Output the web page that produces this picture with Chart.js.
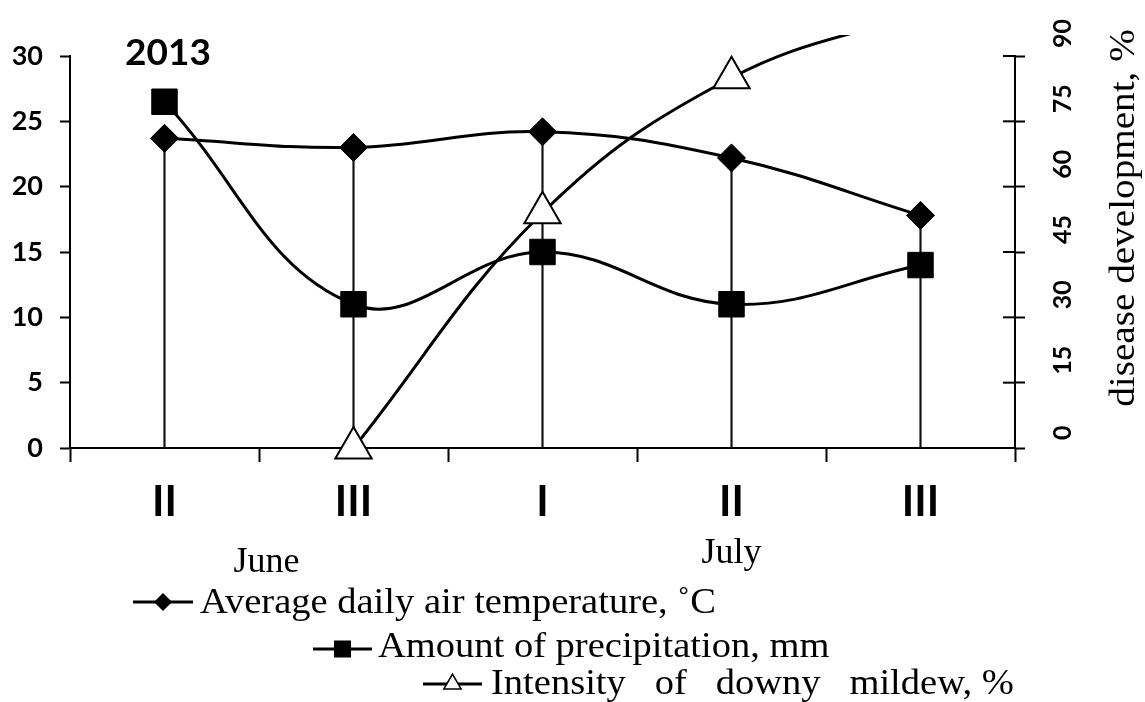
<!DOCTYPE html>
<html>
<head>
<meta charset="utf-8">
<script src="https://cdn.jsdelivr.net/npm/chart.js@4.4.1/dist/chart.umd.min.js"></script>
<style>
  html, body { margin: 0; padding: 0; background: #fff; }
  #wrap { width: 1145px; height: 702px; }
</style>
</head>
<body>
<div id="wrap"><canvas id="chart" width="1145" height="702"></canvas></div>
<script>
// ten-day periods (decades) of June / July 2013
const decades = ['II', 'III', 'I', 'II', 'III'];
const temperature = [23.7, 23.0, 24.2, 22.2, 17.8];   // deg C
const precipitation = [26.5, 11.0, 15.0, 11.0, 14.0]; // mm
const mildew = [null, 0, 54, 85, 100];                // % disease development
const leftTicks = [0, 5, 10, 15, 20, 25, 30];
const rightTicks = [0, 15, 30, 45, 60, 75, 90];
const months = ['June', 'July'];

const serif = '"Liberation Serif", "Times New Roman", serif';
const sans = 'Lato, "Open Sans", sans-serif';

function stretchText(ctx, text, x, y, font, opts) {
  opts = opts || {};
  ctx.save();
  ctx.translate(x, y);
  if (opts.rotate) ctx.rotate(opts.rotate);
  ctx.scale(opts.stretch || 1, 1);
  ctx.font = font;
  ctx.fillStyle = '#000';
  ctx.textAlign = opts.align || 'left';
  ctx.textBaseline = opts.baseline || 'alphabetic';
  ctx.fillText(text, 0, 0);
  ctx.restore();
}

function legendEntry(ctx, ds, x0, x1, y, radius, tx, ty) {
  ctx.save();
  ctx.strokeStyle = '#000';
  ctx.lineWidth = 3;
  ctx.beginPath();
  ctx.moveTo(x0, y);
  ctx.lineTo(x1, y);
  ctx.stroke();
  ctx.fillStyle = ds.pointBackgroundColor;
  ctx.strokeStyle = '#000';
  ctx.lineWidth = 1.5;
  Chart.helpers.drawPoint(ctx, { pointStyle: ds.pointStyle, radius: radius, rotation: 0, borderWidth: 1.5 }, (x0 + x1) / 2, y);
  ctx.restore();
  stretchText(ctx, ds.label, tx, ty, '36px ' + serif, { stretch: 1.07 });
}

const decorations = {
  id: 'decorations',
  afterDraw(chart) {
    const ctx = chart.ctx;
    const area = chart.chartArea;
    const xs = chart.scales.x;
    const y1 = chart.scales.y1;

    // inner half of the right axis ticks
    ctx.save();
    ctx.strokeStyle = '#000';
    ctx.lineWidth = 2;
    y1.ticks.forEach(t => {
      const py = y1.getPixelForValue(t.value);
      ctx.beginPath();
      ctx.moveTo(area.right - 12, py);
      ctx.lineTo(area.right, py);
      ctx.stroke();
    });
    ctx.restore();

    stretchText(ctx, '2013', area.left + 55, area.top + 9, 'bold 37px ' + sans);

    stretchText(ctx, months[0], xs.getPixelForValue(0.54), 572, '36px ' + serif, { align: 'center' });
    stretchText(ctx, months[1], xs.getPixelForValue(3), 563, '36px ' + serif, { align: 'center' });

    stretchText(ctx, 'disease development, %', 1125, 218, '35px ' + serif,
      { rotate: -Math.PI / 2, align: 'center', baseline: 'middle', stretch: 1.12 });

    const ds = chart.data.datasets;
    legendEntry(ctx, ds[1], 133, 193, 602, 8, 200, 613);
    legendEntry(ctx, ds[2], 313, 372, 649, 11, 378, 657);
    legendEntry(ctx, ds[3], 423, 482, 684, 10, 491, 694);
  }
};

const tickFont = { family: sans, weight: 'bold', size: 27 };

new Chart(document.getElementById('chart'), {
  type: 'line',
  data: {
    labels: decades,
    datasets: [
      {
        type: 'bar',
        label: 'drop lines',
        data: temperature,
        backgroundColor: '#111',
        barThickness: 1.5,
        order: 10,
        yAxisID: 'y'
      },
      {
        label: 'Average daily air temperature, \u02DAC',
        data: temperature,
        borderColor: '#000',
        borderWidth: 3,
        tension: 0.4,
        pointStyle: 'rectRot',
        pointRadius: 14,
        pointBackgroundColor: '#000',
        pointBorderColor: '#000',
        pointBorderWidth: 1,
        order: 2,
        yAxisID: 'y'
      },
      {
        label: 'Amount of precipitation, mm',
        data: precipitation,
        borderColor: '#000',
        borderWidth: 3,
        tension: 0.4,
        pointStyle: 'rect',
        pointRadius: 18,
        pointBackgroundColor: '#000',
        pointBorderColor: '#000',
        pointBorderWidth: 1,
        order: 1,
        yAxisID: 'y'
      },
      {
        label: 'Intensity   of   downy   mildew, %',
        data: mildew,
        borderColor: '#000',
        borderWidth: 3,
        tension: 0.4,
        pointStyle: 'triangle',
        pointRadius: 21,
        pointBackgroundColor: '#fff',
        pointBorderColor: '#000',
        pointBorderWidth: 2,
        clip: { left: 30, top: 21, right: 30, bottom: 30 },
        order: 0,
        yAxisID: 'y1'
      }
    ]
  },
  options: {
    responsive: false,
    animation: false,
    layout: { padding: { top: 56, bottom: 184, left: 0, right: 0 } },
    plugins: {
      legend: { display: false },
      tooltip: { enabled: false }
    },
    scales: {
      x: {
        offset: true,
        grid: { offset: true, drawOnChartArea: false, tickLength: 14, tickWidth: 2, color: '#000' },
        border: { color: '#000', width: 2 },
        ticks: { color: '#000', padding: 15, font: { family: sans, weight: 'bold', size: 42 } },
        afterFit(s) { s.height = 70; }
      },
      y: {
        position: 'left',
        min: 0,
        max: 30,
        afterBuildTicks(s) { s.ticks = leftTicks.map(v => ({ value: v })); },
        grid: { drawOnChartArea: false, tickLength: 10, tickWidth: 2, color: '#000' },
        border: { color: '#000', width: 2 },
        ticks: { color: '#000', padding: 17, font: tickFont },
        afterFit(s) { s.width = 70; }
      },
      y1: {
        position: 'right',
        min: 0,
        max: 90,
        afterBuildTicks(s) { s.ticks = rightTicks.map(v => ({ value: v })); },
        grid: { drawOnChartArea: false, tickLength: 10, tickWidth: 2, color: '#000' },
        border: { color: '#000', width: 2 },
        ticks: {
          color: '#000', padding: 38, minRotation: 90, maxRotation: 90, labelOffset: -8,
          font: { family: sans, weight: 'bold', size: 25 }
        },
        afterFit(s) { s.width = 130; }
      }
    }
  },
  plugins: [decorations]
});
</script>
</body>
</html>
